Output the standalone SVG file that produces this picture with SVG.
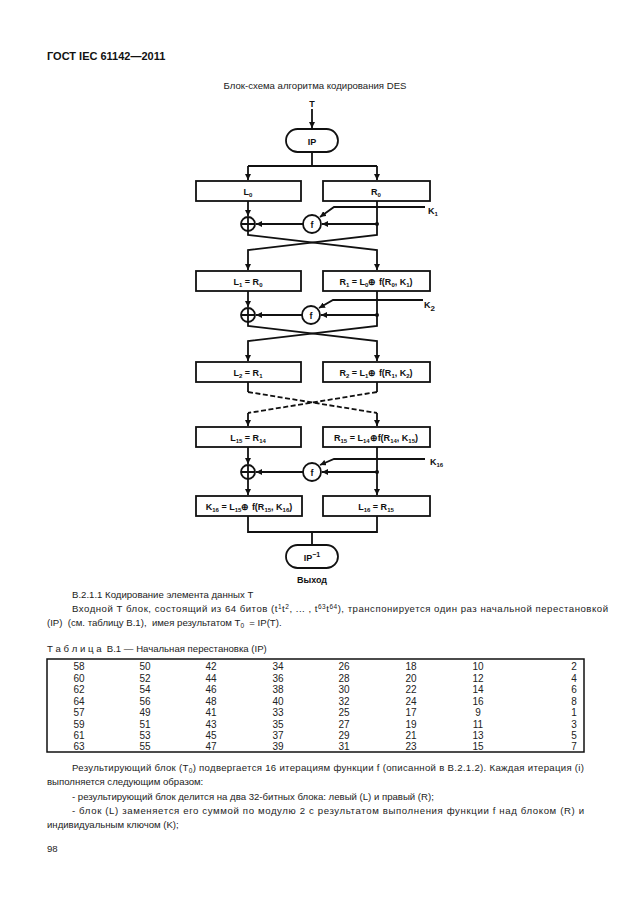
<svg xmlns="http://www.w3.org/2000/svg" width="630" height="913" viewBox="0 0 630 913">
<style>
.ln{fill:none;stroke:#111;stroke-width:1.8}
.ds{fill:none;stroke:#111;stroke-width:1.8;stroke-dasharray:5 2.5}
.bx{fill:#fff;stroke:#111;stroke-width:1.8}
.lb{font-family:"Liberation Sans",Arial,sans-serif;font-size:9px;font-weight:bold;fill:#111;text-anchor:middle}
.sb{font-size:6px}
.kl{font-family:"Liberation Sans",Arial,sans-serif;font-size:9px;font-weight:bold;fill:#111}
.tx{font-family:"Liberation Sans",Arial,sans-serif;font-size:9.6px;fill:#222}
.tb{font-family:"Liberation Sans",Arial,sans-serif;font-size:10px;fill:#222;text-anchor:middle}
.sp{font-size:6.5px}
</style>
<defs>
<marker id="ar" markerUnits="userSpaceOnUse" markerWidth="7" markerHeight="6" refX="6" refY="3" orient="auto">
<path d="M0,0 L6,3 L0,6 z" fill="#111"/>
</marker>
</defs>
<rect width="630" height="913" fill="#fff"/>
<text x="47" y="60" font-family="Liberation Sans,Arial,sans-serif" font-size="11px" font-weight="bold" fill="#111">ГОСТ IEC 61142—2011</text>
<text x="315" y="89" class="tx" text-anchor="middle">Блок-схема алгоритма кодирования DES</text>

<g id="connectors">
<path class="ln" d="M312,109 V128" marker-end="url(#ar)"/>
<path class="ln" d="M312,152 V166 M248,166 H377"/>
<path class="ln" d="M248,166 V180" marker-end="url(#ar)"/>
<path class="ln" d="M377,166 V180" marker-end="url(#ar)"/>
<path class="ln" d="M248,201 V216" marker-end="url(#ar)"/>
<path class="ln" d="M377,224 H322" marker-end="url(#ar)"/>
<path class="ln" d="M303,224 H256" marker-end="url(#ar)"/>
<path class="ln" d="M425,207 H334 L320,217" marker-end="url(#ar)"/>
<path class="ln" d="M377,201 V235 L248,250 V270" marker-end="url(#ar)"/>
<path class="ln" d="M248,231 V235 L377,250 V270" marker-end="url(#ar)"/>
<path class="ln" d="M248,291 V307" marker-end="url(#ar)"/>
<path class="ln" d="M377,315 H321" marker-end="url(#ar)"/>
<path class="ln" d="M302,315 H256" marker-end="url(#ar)"/>
<path class="ln" d="M423,300 H333 L319,308" marker-end="url(#ar)"/>
<path class="ln" d="M377,291 V326 L248,341 V361" marker-end="url(#ar)"/>
<path class="ln" d="M248,322 V326 L377,341 V361" marker-end="url(#ar)"/>
<path class="ln" d="M248,382 V392 M377,382 V392"/>
<path class="ds" d="M248,392 L377,413 M377,392 L248,413"/>
<path class="ln" d="M248,413 V426" marker-end="url(#ar)"/>
<path class="ln" d="M377,413 V426" marker-end="url(#ar)"/>
<path class="ln" d="M248,447 V464" marker-end="url(#ar)"/>
<path class="ln" d="M248,479 V495" marker-end="url(#ar)"/>
<path class="ln" d="M377,447 V495" marker-end="url(#ar)"/>
<path class="ln" d="M377,472 H322" marker-end="url(#ar)"/>
<path class="ln" d="M303,472 H256" marker-end="url(#ar)"/>
<path class="ln" d="M425,459 H334 L320,465" marker-end="url(#ar)"/>
<path class="ln" d="M248,516 V532 H377 V516 M312,532 V545"/>
<circle cx="377" cy="224" r="2" fill="#111"/>
<circle cx="377" cy="315" r="2" fill="#111"/>
<circle cx="377" cy="472" r="2" fill="#111"/>
</g>

<g id="input"><text x="312" y="107" class="lb" font-size="10px">T</text></g>
<g id="ip"><rect class="bx" x="286" y="129" width="52" height="23" rx="11.5"/><text x="312" y="144.5" class="lb" font-size="10px">IP</text></g>

<g id="L0"><rect class="bx" x="196" y="181" width="105" height="20"/><text x="248" y="195" class="lb">L<tspan class="sb" dy="2">0</tspan></text></g>
<g id="R0"><rect class="bx" x="323" y="181" width="107" height="20"/><text x="376" y="195" class="lb">R<tspan class="sb" dy="2">0</tspan></text></g>
<g id="xor1"><circle class="bx" cx="248" cy="224" r="7"/><path class="ln" d="M241,224 H255 M248,217 V231"/></g>
<g id="f1"><circle class="bx" cx="312" cy="224" r="9"/><text x="312" y="227.5" class="lb" font-size="10px">f</text></g>
<g id="k1"><text x="428" y="214" class="kl">K<tspan class="sb" dy="2">1</tspan></text></g>

<g id="L1"><rect class="bx" x="196" y="271" width="105" height="20"/><text x="248" y="285" class="lb">L<tspan class="sb" dy="2">1</tspan><tspan dy="-2"> = R</tspan><tspan class="sb" dy="2">0</tspan></text></g>
<g id="R1"><rect class="bx" x="323" y="271" width="107" height="20"/><text x="376" y="285" class="lb">R<tspan class="sb" dy="2">1</tspan><tspan dy="-2"> = L</tspan><tspan class="sb" dy="2">0</tspan><tspan dy="-2">⊕ f(R</tspan><tspan class="sb" dy="2">0</tspan><tspan dy="-2">, K</tspan><tspan class="sb" dy="2">1</tspan><tspan dy="-2">)</tspan></text></g>
<g id="xor2"><circle class="bx" cx="248" cy="315" r="7"/><path class="ln" d="M241,315 H255 M248,308 V322"/></g>
<g id="f2"><circle class="bx" cx="311" cy="315" r="9"/><text x="311" y="318.5" class="lb" font-size="10px">f</text></g>
<g id="k2"><text x="424" y="308" class="kl" font-size="12px">K<tspan font-size="8px" dy="3">2</tspan></text></g>

<g id="L2"><rect class="bx" x="196" y="362" width="105" height="20"/><text x="248" y="376" class="lb">L<tspan class="sb" dy="2">2</tspan><tspan dy="-2"> = R</tspan><tspan class="sb" dy="2">1</tspan></text></g>
<g id="R2"><rect class="bx" x="323" y="362" width="107" height="20"/><text x="376" y="376" class="lb">R<tspan class="sb" dy="2">2</tspan><tspan dy="-2"> = L</tspan><tspan class="sb" dy="2">1</tspan><tspan dy="-2">⊕ f(R</tspan><tspan class="sb" dy="2">1</tspan><tspan dy="-2">, K</tspan><tspan class="sb" dy="2">2</tspan><tspan dy="-2">)</tspan></text></g>

<g id="L15"><rect class="bx" x="196" y="427" width="105" height="20"/><text x="248" y="441" class="lb">L<tspan class="sb" dy="2">15</tspan><tspan dy="-2"> = R</tspan><tspan class="sb" dy="2">14</tspan></text></g>
<g id="R15"><rect class="bx" x="323" y="427" width="107" height="20"/><text x="376" y="441" class="lb">R<tspan class="sb" dy="2">15</tspan><tspan dy="-2"> = L</tspan><tspan class="sb" dy="2">14</tspan><tspan dy="-2">⊕f(R</tspan><tspan class="sb" dy="2">14</tspan><tspan dy="-2">, K</tspan><tspan class="sb" dy="2">15</tspan><tspan dy="-2">)</tspan></text></g>
<g id="xor16"><circle class="bx" cx="248" cy="472" r="7"/><path class="ln" d="M241,472 H255 M248,465 V479"/></g>
<g id="f16"><circle class="bx" cx="312" cy="472" r="9"/><text x="312" y="475.5" class="lb" font-size="10px">f</text></g>
<g id="k16"><text x="430" y="465" class="kl">K<tspan class="sb" dy="2">16</tspan></text></g>

<g id="R16"><rect class="bx" x="196" y="496" width="106" height="20"/><text x="249" y="510" class="lb">K<tspan class="sb" dy="2">16</tspan><tspan dy="-2"> = L</tspan><tspan class="sb" dy="2">15</tspan><tspan dy="-2">⊕ f(R</tspan><tspan class="sb" dy="2">15</tspan><tspan dy="-2">, K</tspan><tspan class="sb" dy="2">16</tspan><tspan dy="-2">)</tspan></text></g>
<g id="L16"><rect class="bx" x="323" y="496" width="107" height="20"/><text x="376" y="510" class="lb">L<tspan class="sb" dy="2">16</tspan><tspan dy="-2"> = R</tspan><tspan class="sb" dy="2">15</tspan></text></g>

<g id="ipinv"><rect class="bx" x="286" y="545" width="52" height="23" rx="11.5"/><text x="312" y="561" class="lb" font-size="10px">IP<tspan font-size="7px" dy="-4">−1</tspan></text></g>
<g id="output"><text x="312" y="583" class="lb" font-size="8px">Выход</text></g>

<text x="72" y="598" class="tx">В.2.1.1 Кодирование элемента данных Т</text>
<text x="72" y="612" class="tx" textLength="536" lengthAdjust="spacing">Входной Т блок, состоящий из 64 битов (t<tspan class="sp" dy="-3.5">1</tspan><tspan dy="3.5">t</tspan><tspan class="sp" dy="-3.5">2</tspan><tspan dy="3.5">, ... , t</tspan><tspan class="sp" dy="-3.5">63</tspan><tspan dy="3.5">t</tspan><tspan class="sp" dy="-3.5">64</tspan><tspan dy="3.5">), транспонируется один раз начальной перестановкой</tspan></text>
<text x="47" y="626" class="tx" xml:space="preserve">(IP)  (см. таблицу В.1),  имея результатом T<tspan class="sp" dy="2">0</tspan><tspan dy="-2">  = IP(T).</tspan></text>

<text x="47" y="652" class="tx" xml:space="preserve">Т а б л и ц а  В.1 — Начальная перестановка (IP)</text>
<rect x="47" y="659" width="537" height="93" fill="none" stroke="#111" stroke-width="1.5"/>
<g class="tb">
<text x="79" y="670">58</text><text x="145" y="670">50</text><text x="211" y="670">42</text><text x="278" y="670">34</text><text x="344" y="670">26</text><text x="411" y="670">18</text><text x="478" y="670">10</text><text x="574" y="670">2</text>
<text x="79" y="681.5">60</text><text x="145" y="681.5">52</text><text x="211" y="681.5">44</text><text x="278" y="681.5">36</text><text x="344" y="681.5">28</text><text x="411" y="681.5">20</text><text x="478" y="681.5">12</text><text x="574" y="681.5">4</text>
<text x="79" y="693">62</text><text x="145" y="693">54</text><text x="211" y="693">46</text><text x="278" y="693">38</text><text x="344" y="693">30</text><text x="411" y="693">22</text><text x="478" y="693">14</text><text x="574" y="693">6</text>
<text x="79" y="704.5">64</text><text x="145" y="704.5">56</text><text x="211" y="704.5">48</text><text x="278" y="704.5">40</text><text x="344" y="704.5">32</text><text x="411" y="704.5">24</text><text x="478" y="704.5">16</text><text x="574" y="704.5">8</text>
<text x="79" y="716">57</text><text x="145" y="716">49</text><text x="211" y="716">41</text><text x="278" y="716">33</text><text x="344" y="716">25</text><text x="411" y="716">17</text><text x="478" y="716">9</text><text x="574" y="716">1</text>
<text x="79" y="727.5">59</text><text x="145" y="727.5">51</text><text x="211" y="727.5">43</text><text x="278" y="727.5">35</text><text x="344" y="727.5">27</text><text x="411" y="727.5">19</text><text x="478" y="727.5">11</text><text x="574" y="727.5">3</text>
<text x="79" y="739">61</text><text x="145" y="739">53</text><text x="211" y="739">45</text><text x="278" y="739">37</text><text x="344" y="739">29</text><text x="411" y="739">21</text><text x="478" y="739">13</text><text x="574" y="739">5</text>
<text x="79" y="750">63</text><text x="145" y="750">55</text><text x="211" y="750">47</text><text x="278" y="750">39</text><text x="344" y="750">31</text><text x="411" y="750">23</text><text x="478" y="750">15</text><text x="574" y="750">7</text>
</g>

<text x="72" y="771" class="tx" textLength="512" lengthAdjust="spacing">Результирующий блок (T<tspan class="sp" dy="2">0</tspan><tspan dy="-2">) подвергается 16 итерациям функции f (описанной в В.2.1.2). Каждая итерация (i)</tspan></text>
<text x="47" y="785" class="tx">выполняется следующим образом:</text>
<text x="72" y="800" class="tx">- результирующий блок делится на два 32-битных блока: левый (L) и правый (R);</text>
<text x="72" y="814" class="tx" textLength="512" lengthAdjust="spacing">- блок (L) заменяется его суммой по модулю 2 с результатом выполнения функции f над блоком (R) и</text>
<text x="47" y="828" class="tx">индивидуальным ключом (K);</text>
<text x="47" y="852" class="tx">98</text>
</svg>
